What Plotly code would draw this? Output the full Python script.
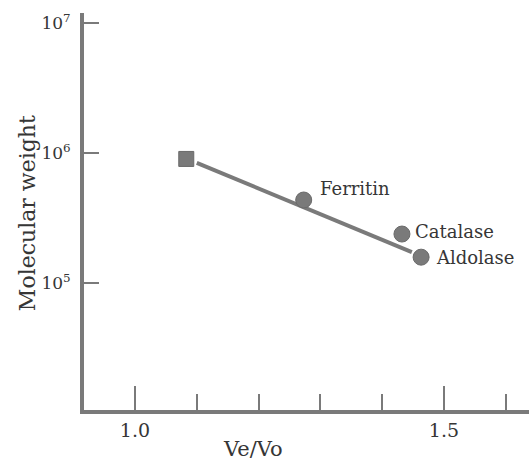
import math
import plotly.graph_objects as go

# Data
proteins = ["Ferritin", "Catalase", "Aldolase"]
protein_ve_vo = [1.273, 1.432, 1.463]
protein_mw = [4.35e5, 2.38e5, 1.58e5]

unknown_ve_vo = [1.083]
unknown_mw = [9.0e5]

fit_ve_vo = [1.100, 1.448]
fit_mw = [8.4e5, 1.73e5]

x_major_ticks = [1.0, 1.5]
x_major_labels = ["1.0", "1.5"]
x_minor_ticks = [1.1, 1.2, 1.3, 1.4, 1.6]
y_ticks = [1e5, 1e6, 1e7]
y_labels = ["10<sup>5</sup>", "10<sup>6</sup>", "10<sup>7</sup>"]

FONT = "DejaVu Serif"
TXT = "#363636"
GRAY = "#7a7a7a"

fig = go.Figure()
fig.add_trace(go.Scatter(x=fit_ve_vo, y=fit_mw, mode="lines",
                         line=dict(color=GRAY, width=4), hoverinfo="skip"))
fig.add_trace(go.Scatter(x=unknown_ve_vo, y=unknown_mw, mode="markers",
                         marker=dict(symbol="square", size=15, color=GRAY,
                                     line=dict(color="#6a6a6a", width=1))))
fig.add_trace(go.Scatter(x=protein_ve_vo, y=protein_mw, mode="markers",
                         marker=dict(symbol="circle", size=16, color=GRAY,
                                     line=dict(color="#6a6a6a", width=1))))

shifts = {"Ferritin": (14, 12), "Catalase": (11, 3), "Aldolase": (13, 0)}
for name, xv, yv in zip(proteins, protein_ve_vo, protein_mw):
    dx, dy = shifts[name]
    fig.add_annotation(x=xv, y=math.log10(yv), text=name, showarrow=False,
                       xanchor="left", yanchor="middle", xshift=dx, yshift=dy,
                       font=dict(family=FONT, size=18, color=TXT))

fig.add_annotation(xref="paper", yref="paper", x=0.38, y=-0.1285, text="Ve/Vo",
                   showarrow=False, xanchor="center", yanchor="bottom", yshift=-2,
                   font=dict(family=FONT, size=21, color=TXT))
fig.add_annotation(xref="paper", yref="paper", x=-0.128, y=0.496,
                   text="Molecular weight", textangle=-90, showarrow=False,
                   xanchor="center", yanchor="middle",
                   font=dict(family=FONT, size=22, color=TXT))

fig.update_layout(
    width=529, height=461,
    margin=dict(l=84, r=0, t=13, b=51),
    paper_bgcolor="white", plot_bgcolor="white",
    showlegend=False,
    xaxis=dict(range=[0.9175, 1.6376], showgrid=False, zeroline=False,
               showline=True, linecolor=GRAY, linewidth=4,
               tickmode="array", tickvals=x_major_ticks, ticktext=x_major_labels,
               ticks="inside", ticklen=24, tickwidth=2, tickcolor=GRAY,
               ticklabelstandoff=0,
               tickfont=dict(family=FONT, size=19, color=TXT),
               minor=dict(tickmode="array", tickvals=x_minor_ticks, ticks="inside",
                          ticklen=16, tickwidth=2, tickcolor=GRAY, showgrid=False)),
    yaxis=dict(type="log", range=[4.023, 7.077], showgrid=False, zeroline=False,
               showline=True, linecolor=GRAY, linewidth=4,
               tickmode="array", tickvals=y_ticks, ticktext=y_labels,
               ticks="inside", ticklen=15, tickwidth=2, tickcolor=GRAY,
               ticklabelstandoff=6,
               tickfont=dict(family=FONT, size=17, color=TXT)),
)

fig.write_html("out.html")
